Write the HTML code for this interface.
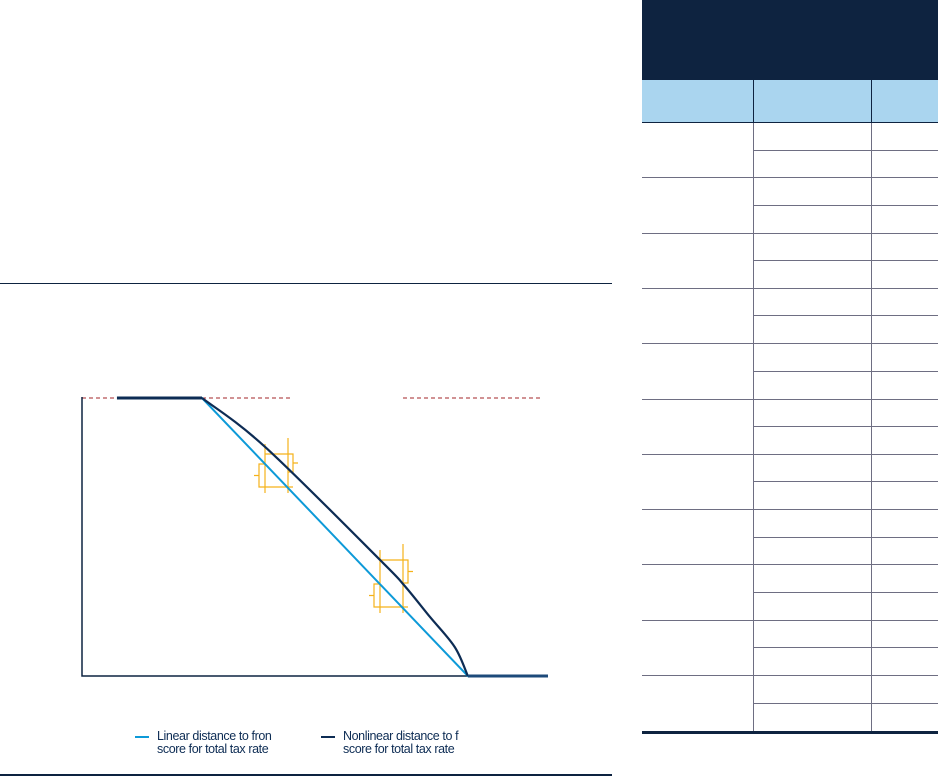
<!DOCTYPE html>
<html><head><meta charset="utf-8"><style>
body{margin:0;width:938px;height:777px;background:#fff;position:relative;overflow:hidden;font-family:"Liberation Sans",sans-serif}
.abs{position:absolute}
.leg{position:absolute;top:730px;font-size:12.5px;line-height:13px;color:#0d2c54;letter-spacing:-0.4px;white-space:nowrap}
.leg i{position:absolute;left:-22px;top:6px;width:14px;height:2px}
</style></head><body>
<div class="abs" style="left:0;top:283px;width:612px;height:1px;background:#0d2340"></div>
<div class="abs" style="left:0;top:774px;width:612px;height:2px;background:#0d2340"></div>
<div class="leg" style="left:157px"><i style="background:#0d9ad8"></i>Linear distance to fron<br>score for total tax rate</div>
<div class="leg" style="left:343px"><i style="background:#0d2c54"></i>Nonlinear distance to f<br>score for total tax rate</div>
<svg id="chart" class="abs" style="left:0;top:0" width="620" height="777"></svg>
<div id="table"></div>
<script>
const linX=[7.5,25.75,82.8,100];
const linY=[100,100,0,0];
const nonX=[25.75,39.3,64,69.1,74.7,80,82.8];
const nonY=[100,82.4,41.7,32.7,21.2,10.4,0];
function sx(v){return 82+4.66*v;}
function sy(v){return 676-2.78*v;}
const svg=document.getElementById('chart');
const NS='http://www.w3.org/2000/svg';
function mk(t,a){const e=document.createElementNS(NS,t);for(const k in a)e.setAttribute(k,a[k]);svg.appendChild(e);return e;}
let e;
e=mk('line',{x1:82,y1:398,x2:117,y2:398,stroke:'#a3262a','stroke-dasharray':'4,3','stroke-width':1});

e=mk('line',{x1:202,y1:398,x2:291,y2:398,stroke:'#a3262a','stroke-dasharray':'4,3','stroke-width':1});

e=mk('line',{x1:403,y1:398,x2:542,y2:398,stroke:'#a3262a','stroke-dasharray':'4,3','stroke-width':1});

e=mk('path',{d:'M82,397V676H468',fill:'none',stroke:'#0d2340','stroke-width':1.5});

function br(x1,x2,y1,y2,y3,y4){
 const g='#f5b21a';
 mk('line',{x1:x1,y1:y1-10,x2:x1,y2:y4+6,stroke:g,'stroke-width':1.2});
 mk('line',{x1:x2,y1:y1-16,x2:x2,y2:y4+6,stroke:g,'stroke-width':1.2});
 mk('path',{d:`M${x1},${y1}H${x2+5}V${y2}H${x2}M${x2+5},${(y1+y2)/2}h5`,fill:'none',stroke:g,'stroke-width':1.2});
 mk('path',{d:`M${x1},${y3}H${x1-6}V${y4}H${x2+5}M${x1-6},${(y3+y4)/2}h-5`,fill:'none',stroke:g,'stroke-width':1.2});
}
br(265,288,454,472,464,487);
br(380,403,560,583,584,607);
function path(xs,ys){return xs.map((x,i)=>(i?'L':'M')+sx(x).toFixed(1)+','+sy(ys[i]).toFixed(1)).join('');}
e=mk('path',{d:path(linX,linY),fill:'none',stroke:'#0d9ad8','stroke-width':2});

let pts=nonX.map((x,i)=>[sx(x),sy(nonY[i])]);
let d='M'+pts[0][0]+','+pts[0][1];
const n=pts.length;
for(let i=0;i<n-1;i++){
 const p0=pts[Math.max(i-1,0)],p1=pts[i],p2=pts[i+1],p3=pts[Math.min(i+2,n-1)];
 const c1=[p1[0]+(p2[0]-p0[0])/6,p1[1]+(p2[1]-p0[1])/6],c2=[p2[0]-(p3[0]-p1[0])/6,p2[1]-(p3[1]-p1[1])/6];
 d+=`C${c1[0].toFixed(1)},${c1[1].toFixed(1)} ${c2[0].toFixed(1)},${c2[1].toFixed(1)} ${p2[0].toFixed(1)},${p2[1].toFixed(1)}`;
}
e=mk('path',{d:d,fill:'none',stroke:'#0d2c54','stroke-width':2.2});

e=mk('line',{x1:sx(linX[0]),y1:398,x2:sx(linX[1]),y2:398,stroke:'#0d2c54','stroke-width':3});

e=mk('line',{x1:sx(linX[2]),y1:676,x2:548,y2:676,stroke:'#1d4a7a','stroke-width':3});

const t=document.getElementById('table');
function div(name,css){const d=document.createElement('div');d.className='abs';d.style.cssText=css;


t.appendChild(d);return d;}
div('table-title','left:642px;top:0;width:296px;height:80px;background:#0e2340');
div('table-header','left:642px;top:80px;width:296px;height:42px;background:#aad5ef');
div('header-divider-1','left:753px;top:80px;width:1px;height:42px;background:#0e2340');
div('header-divider-2','left:871px;top:80px;width:1px;height:42px;background:#0e2340');
div('header-bottom','left:642px;top:122px;width:296px;height:1px;background:#0e2340');
div('col-divider-1','left:753px;top:123px;width:1px;height:610px;background:#6e6e82');
div('col-divider-2','left:871px;top:123px;width:1px;height:610px;background:#6e6e82');
for(let i=0;i<11;i++){
 const y=122+i*55.3;
 if(i>0)div('group-row-line','left:642px;top:'+Math.round(y)+'px;width:296px;height:1px;background:#6e6e82');
 div('sub-row-line','left:754px;top:'+Math.round(y+27.5)+'px;width:184px;height:1px;background:#6e6e82');
}
div('table-bottom','left:642px;top:731px;width:296px;height:3px;background:#0e2340');
</script>
</body></html>
